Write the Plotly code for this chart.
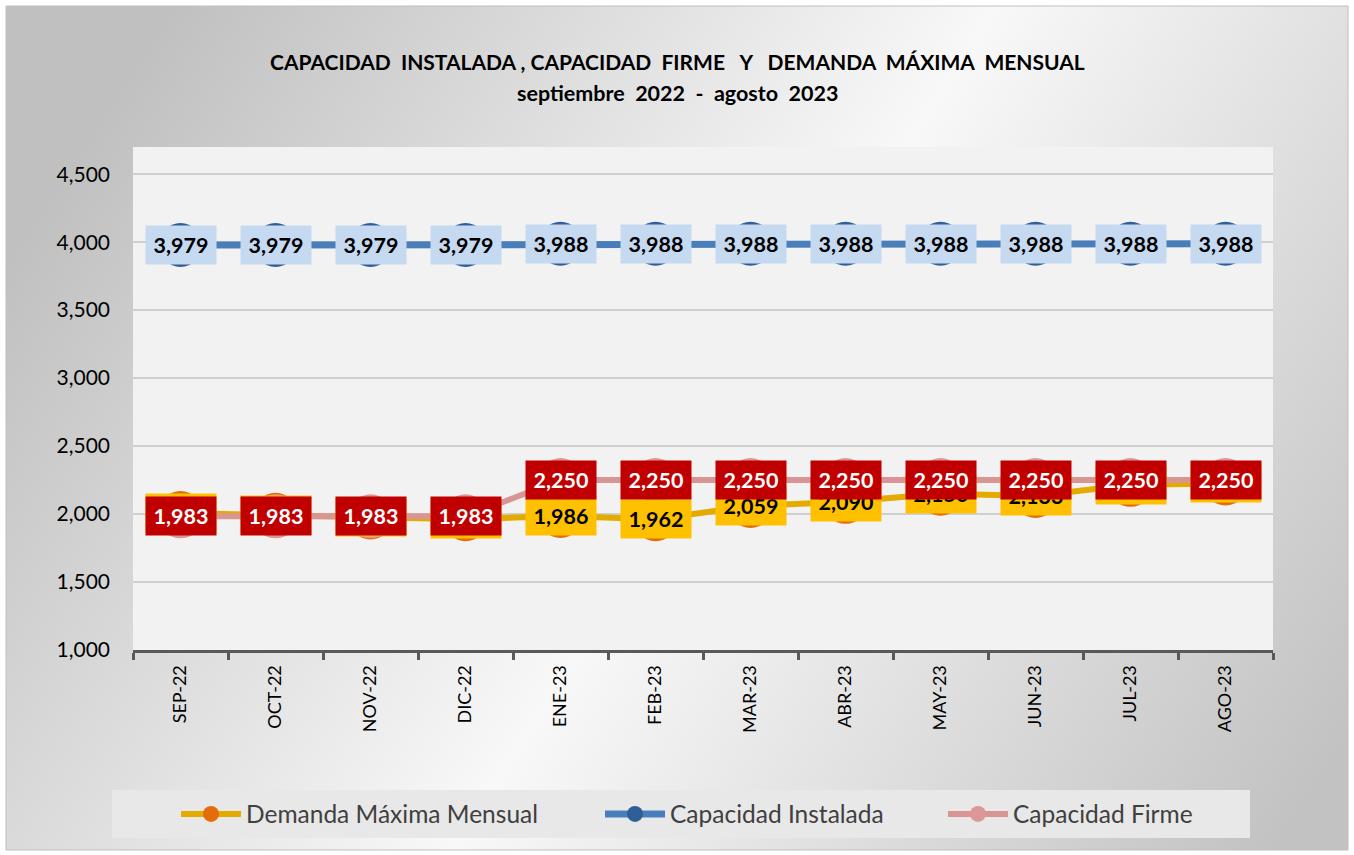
import base64
import plotly.graph_objects as go

# datos
meses = ["SEP-22", "OCT-22", "NOV-22", "DIC-22", "ENE-23", "FEB-23",
         "MAR-23", "ABR-23", "MAY-23", "JUN-23", "JUL-23", "AGO-23"]
demanda = [2007, 1995, 1975, 1962, 1986, 1962, 2059, 2090, 2150, 2133, 2215, 2225]
instalada = [3979, 3979, 3979, 3979, 3988, 3988, 3988, 3988, 3988, 3988, 3988, 3988]
firme = [1983, 1983, 1983, 1983, 2250, 2250, 2250, 2250, 2250, 2250, 2250, 2250]

W, H = 1354, 855
ml, mr, mt, mb = 133, 81, 147, 205
pw, ph = W - ml - mr, H - mt - mb


def px(x):
    return (x - ml) / pw


def py(y):
    return (H - mb - y) / ph


fuente = "Lato"

fig = go.Figure()

fig.add_trace(go.Scatter(
    x=meses, y=demanda, name="Demanda Máxima Mensual", mode="lines+markers",
    line=dict(color="#e3ab00", width=6),
    marker=dict(color="#e46c0a", size=44), legend="legend"))
fig.add_trace(go.Scatter(
    x=meses, y=instalada, name="Capacidad Instalada", mode="lines+markers",
    line=dict(color="#4a7ebb", width=7),
    marker=dict(color="#2f5f98", size=44), legend="legend2"))
fig.add_trace(go.Scatter(
    x=meses, y=firme, name="Capacidad Firme", mode="lines+markers",
    line=dict(color="#d99594", width=6),
    marker=dict(color="#dc9896", size=44), legend="legend3"))

# etiquetas de datos
anots = []
for serie, fondo, color in [(demanda, "#ffc000", "black"),
                            (instalada, "#c5d9f1", "black"),
                            (firme, "#c00000", "white")]:
    for m, v in zip(meses, serie):
        anots.append(dict(x=m, y=v, xref="x", yref="y", text=f"{v:,}",
                          showarrow=False, bgcolor=fondo, width=64, height=32,
                          borderpad=3,
                          font=dict(family=fuente, size=21.5, color=color, weight="bold")))

anots.append(dict(x=px(677), y=py(62), xref="paper", yref="paper", showarrow=False,
                  yanchor="middle",
                  text="CAPACIDAD&nbsp; INSTALADA , CAPACIDAD&nbsp; FIRME&nbsp;&nbsp; Y&nbsp;&nbsp; DEMANDA&nbsp; MÁXIMA&nbsp; MENSUAL",
                  font=dict(family=fuente, size=21, color="black", weight="bold")))
anots.append(dict(x=px(677), y=py(93), xref="paper", yref="paper", showarrow=False,
                  yanchor="middle",
                  text="septiembre&nbsp; 2022&nbsp; -&nbsp; agosto&nbsp; 2023",
                  font=dict(family=fuente, size=21.5, color="black", weight="bold")))

# fondo degradado (banda clara en diagonal)
svg = (f'<svg xmlns="http://www.w3.org/2000/svg" width="{W}" height="{H}" preserveAspectRatio="none">'
       '<defs><linearGradient id="g" gradientUnits="userSpaceOnUse" x1="136" y1="48" x2="1314" y2="806">'
       '<stop offset="0" stop-color="#c0c0c0"/><stop offset="0.5" stop-color="#f8f8f8"/>'
       '<stop offset="1" stop-color="#c2c2c2"/>'
       '</linearGradient></defs>'
       f'<rect width="{W}" height="{H}" fill="url(#g)"/></svg>')
src = "data:image/svg+xml;base64," + base64.b64encode(svg.encode()).decode()

leg = dict(orientation="h", xanchor="left", yanchor="middle", y=py(814),
           bgcolor="rgba(0,0,0,0)", itemwidth=60,
           font=dict(family=fuente, size=24.5, color="#404040"))

fig.update_layout(
    width=W, height=H,
    margin=dict(l=ml, r=mr, t=mt, b=mb),
    paper_bgcolor="white",
    plot_bgcolor="rgba(0,0,0,0)",
    font=dict(family=fuente, color="#000000"),
    annotations=anots,
    images=[dict(source=src, xref="paper", yref="paper", x=px(6), y=py(6),
                 sizex=px(1348) - px(6), sizey=py(6) - py(850), sizing="stretch",
                 xanchor="left", yanchor="top", layer="below")],
    shapes=[
        dict(type="rect", xref="paper", yref="paper", x0=0, x1=1, y0=0, y1=1,
             fillcolor="#f2f2f2", line=dict(width=0), layer="below"),
        dict(type="rect", xref="paper", yref="paper", x0=px(112), x1=px(1250),
             y0=py(838), y1=py(790), fillcolor="#e8e8e8", line=dict(width=0), layer="below"),
        dict(type="rect", xref="paper", yref="paper", x0=px(6), x1=px(1348),
             y0=py(850), y1=py(6), line=dict(color="#bfbfbf", width=1), layer="below"),
    ],
    showlegend=True,
    legend=dict(leg, x=px(176)),
    legend2=dict(leg, x=px(600)),
    legend3=dict(leg, x=px(943)),
    xaxis=dict(range=[-0.5, 11.5], tickangle=-90, tickson="boundaries",
               ticks="outside", ticklen=7, tickwidth=3, tickcolor="#595959",
               showline=True, linecolor="#595959", linewidth=3, ticklabelstandoff=5,
               showgrid=False, tickfont=dict(family=fuente, size=18, color="#000000")),
    yaxis=dict(range=[1000, 4700], tickvals=[1000, 1500, 2000, 2500, 3000, 3500, 4000, 4500],
               tickformat=",", showgrid=True, gridcolor="#cfcfcf", gridwidth=1.5,
               zeroline=False, showline=False, ticks="", ticklabelstandoff=22,
               tickfont=dict(family=fuente, size=21, color="#000000")),
)

fig.write_html("out.html", config={"displayModeBar": False},
               post_script="document.body.style.margin='0px';")
